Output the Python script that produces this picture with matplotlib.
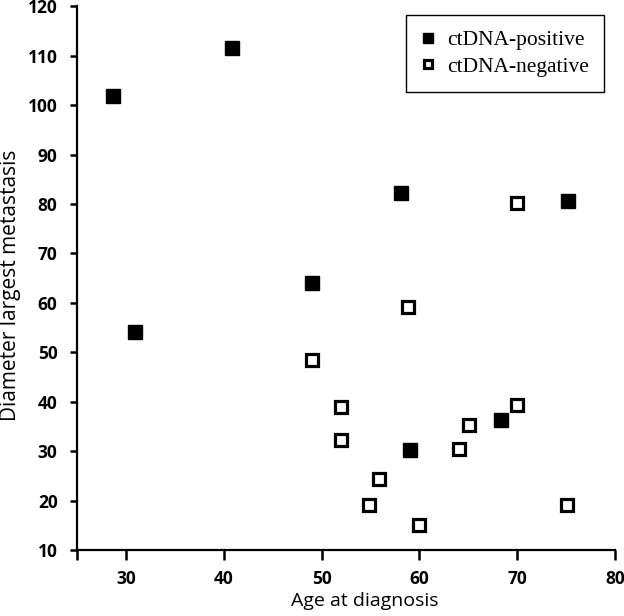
import matplotlib
matplotlib.use("Agg")
import matplotlib.pyplot as plt

pos_age = [28.7, 40.8, 30.9, 58.1, 75.2, 49.0, 59.0, 68.3]
pos_diam = [101.8, 111.6, 54.1, 82.3, 80.5, 64.1, 30.3, 36.3]
neg_age = [70.0, 58.8, 49.0, 52.0, 52.0, 55.9, 54.9, 60.0, 64.0, 65.1, 70.0, 75.1]
neg_diam = [80.2, 59.2, 48.4, 39.0, 32.3, 24.4, 19.2, 15.1, 30.4, 35.3, 39.4, 19.2]
x_ticks = [30, 40, 50, 60, 70, 80]
y_ticks = [10, 20, 30, 40, 50, 60, 70, 80, 90, 100, 110, 120]

fig = plt.figure(figsize=(6.24, 6.16), dpi=100)
ax = fig.add_axes([0.1234, 0.107, 0.9856 - 0.1234, 0.990 - 0.107])

ax.plot(pos_age, pos_diam, linestyle='none', marker='s', markersize=10,
        color='black', label='ctDNA-positive')
ax.plot(neg_age, neg_diam, linestyle='none', marker='s', markersize=8.6,
        markerfacecolor='white', markeredgecolor='black', markeredgewidth=2.3,
        label='ctDNA-negative')

ax.set_xlim(25, 80)
ax.set_ylim(10, 120)
ax.set_xticks(x_ticks)
ax.set_xticks([25], minor=True)
ax.set_yticks(y_ticks)
for s in ['top', 'right']:
    ax.spines[s].set_visible(False)
for s in ['left', 'bottom']:
    ax.spines[s].set_linewidth(1.6)
ax.tick_params(axis='x', which='both', direction='out', length=7, width=1.8, pad=7)
ax.tick_params(axis='y', direction='out', length=5, width=1.8, pad=9)
for lab in ax.get_xticklabels() + ax.get_yticklabels():
    lab.set_fontfamily('Open Sans')
    lab.set_fontweight('bold')
    lab.set_fontsize(12.5)

ax.set_xlabel('Age at diagnosis', fontfamily='Open Sans', fontsize=14)
ax.xaxis.set_label_coords((365 - 77) / (615 - 77), -(592 - 550) / 544)
ax.set_ylabel('Diameter largest metastasis', fontfamily='Open Sans', fontsize=15)
ax.yaxis.set_label_coords(-(77 - 21) / 538, (550 - 285) / 544)

leg = ax.legend(loc='upper right', bbox_to_anchor=(604 / 624, 1 - 15 / 616),
                bbox_transform=fig.transFigure, borderaxespad=0,
                prop={'family': 'Liberation Serif', 'size': 15.5},
                fancybox=False, edgecolor='black', framealpha=1,
                markerscale=0.7, handlelength=0.6, handletextpad=0.6,
                borderpad=0.7, labelspacing=0.3)
leg.get_frame().set_linewidth(1.0)

fig.savefig('out.png', dpi=100)
